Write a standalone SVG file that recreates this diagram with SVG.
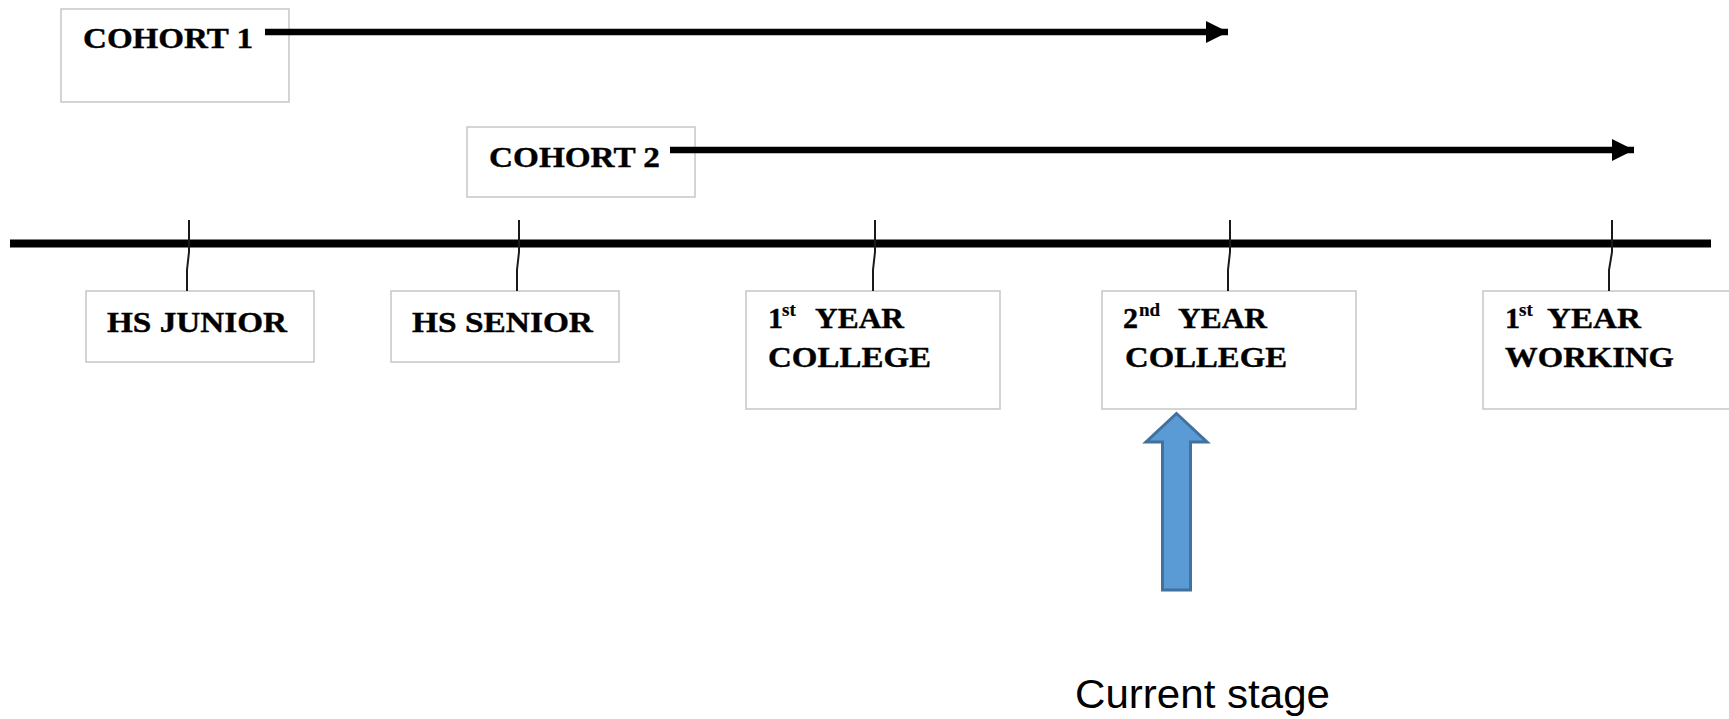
<svg xmlns="http://www.w3.org/2000/svg" width="1729" height="719" viewBox="0 0 1729 719">
<style>
.box{fill:#fff;stroke:#c6c6c6;stroke-width:1.5}
.lbl{font-family:"Liberation Serif","Times New Roman",serif;font-weight:bold;font-size:30px;fill:#000;stroke:#000;stroke-width:0.4}
.sup{font-size:19px;stroke-width:0.2}
.tick{fill:none;stroke:#1a1a1a;stroke-width:2}
.cap{font-family:"Liberation Sans",Arial,sans-serif;font-size:40px;fill:#000}
</style>
<defs>
<marker id="ah" markerUnits="userSpaceOnUse" markerWidth="24" markerHeight="22" refX="22" refY="11" orient="auto">
<path d="M0,0 L22,11 L0,22 Z" fill="#000"/>
</marker>
</defs>
<rect width="1729" height="719" fill="#fff"/>
<g id="cohort1">
<rect class="box" x="61" y="9" width="228" height="93"/>
<text class="lbl" x="83" y="48" textLength="170" lengthAdjust="spacingAndGlyphs">COHORT 1</text>
</g>
<g id="cohort2">
<rect class="box" x="467" y="127" width="228" height="70"/>
<text class="lbl" x="489" y="167" textLength="171" lengthAdjust="spacingAndGlyphs">COHORT 2</text>
</g>
<g id="hs-junior">
<rect class="box" x="86" y="291" width="228" height="71"/>
<text class="lbl" x="107" y="332" textLength="180" lengthAdjust="spacingAndGlyphs">HS JUNIOR</text>
</g>
<g id="hs-senior">
<rect class="box" x="391" y="291" width="228" height="71"/>
<text class="lbl" x="412" y="332" textLength="181" lengthAdjust="spacingAndGlyphs">HS SENIOR</text>
</g>
<g id="year1-college">
<rect class="box" x="746" y="291" width="254" height="118"/>
<text class="lbl" y="328"><tspan x="768">1</tspan><tspan class="sup" x="782" dy="-12">st</tspan><tspan x="815" dy="12" textLength="89" lengthAdjust="spacingAndGlyphs">YEAR</tspan></text>
<text class="lbl" x="768" y="367" textLength="163" lengthAdjust="spacingAndGlyphs">COLLEGE</text>
</g>
<g id="year2-college">
<rect class="box" x="1102" y="291" width="254" height="118"/>
<text class="lbl" y="328"><tspan x="1123">2</tspan><tspan class="sup" x="1139" dy="-12">nd</tspan><tspan x="1178" dy="12" textLength="89" lengthAdjust="spacingAndGlyphs">YEAR</tspan></text>
<text class="lbl" x="1125" y="367" textLength="162" lengthAdjust="spacingAndGlyphs">COLLEGE</text>
</g>
<g id="year1-working">
<rect class="box" x="1483" y="291" width="254" height="118"/>
<text class="lbl" y="328"><tspan x="1505">1</tspan><tspan class="sup" x="1519" dy="-12">st</tspan><tspan x="1547" dy="12" textLength="94" lengthAdjust="spacingAndGlyphs">YEAR</tspan></text>
<text class="lbl" x="1505" y="367" textLength="169" lengthAdjust="spacingAndGlyphs">WORKING</text>
</g>
<g id="current-stage">
<path d="M1176.5,413.5 L1207,442 L1190.5,442 L1190.5,590 L1162.5,590 L1162.5,442 L1146,442 Z" fill="#5b9bd5" stroke="#41719c" stroke-width="3" stroke-linejoin="miter"/>
<text class="cap" x="1075" y="708" textLength="255" lengthAdjust="spacingAndGlyphs">Current stage</text>
</g>
<g id="connectors">
<line x1="10" y1="243.5" x2="1711" y2="243.5" stroke="#000" stroke-width="8"/>
<line x1="265" y1="32" x2="1228" y2="32" stroke="#000" stroke-width="6.5" marker-end="url(#ah)"/>
<line x1="670" y1="150" x2="1634" y2="150" stroke="#000" stroke-width="6.5" marker-end="url(#ah)"/>
<polyline class="tick" points="189,220 189,252 187,270 187,291"/>
<polyline class="tick" points="519,220 519,252 517,270 517,291"/>
<polyline class="tick" points="875,220 875,252 873,270 873,291"/>
<polyline class="tick" points="1230,220 1230,252 1228,270 1228,291"/>
<polyline class="tick" points="1612,220 1612,252 1609,270 1609,291"/>
</g>
</svg>
